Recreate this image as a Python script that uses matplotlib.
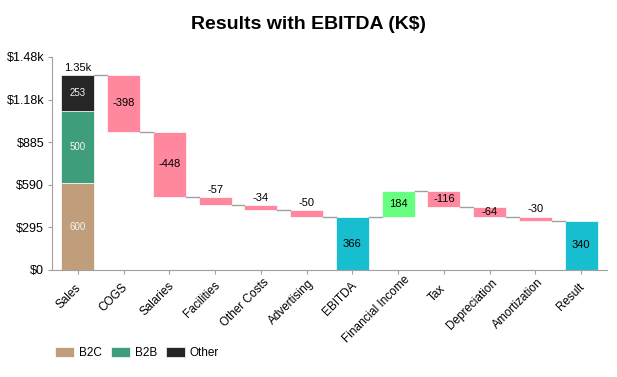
import numpy as np
import matplotlib
matplotlib.use("Agg")
from matplotlib import pyplot as plt

plt.rcParams['font.family'] = ['Liberation Sans', 'DejaVu Sans']

categories = ["Sales", "COGS", "Salaries", "Facilities", "Other Costs", "Advertising",
              "EBITDA", "Financial Income", "Tax", "Depreciation", "Amortization", "Result"]
deltas = [None, -398, -448, -57, -34, -50, None, 184, -116, -64, -30, None]
totals = [None, None, None, None, None, None, 366, None, None, None, None, 340]

sales_names = ["B2C", "B2B", "Other"]
sales_values = [600, 500, 253]
sales_colors = ["#C19E7B", "#3E9E7B", "#262626"]

neg_color = "#FF879E"
pos_color = "#66FF7F"
total_color = "#17BECF"

y_ticks = np.linspace(0, 1476, 6)
y_tick_labels = ["$0", "$295", "$590", "$885", "$1.18k", "$1.48k"]

fig = plt.figure(figsize=(6.17, 3.77), dpi=100)
ax = fig.add_axes([0.084, 0.284, 0.9, 0.565])

w = 0.72
x = np.arange(len(categories))

# stacked sales bar
bottom = 0
for name, v, c in zip(sales_names, sales_values, sales_colors):
    ax.bar(0, v, w, bottom=bottom, color=c, edgecolor="white", linewidth=0.5, label=name)
    ax.text(0, bottom + v / 2, str(v), ha="center", va="center", color="#F4F4F4", fontsize=7)
    bottom += v
running = bottom
ax.text(0, running + 15, "1.35k", ha="center", va="bottom", fontsize=8)

levels = [running]
for i in range(1, len(categories)):
    if totals[i] is not None:
        ax.bar(i, totals[i], w, color=total_color, edgecolor="white", linewidth=0.5)
        ax.text(i, totals[i] / 2, str(totals[i]), ha="center", va="center", fontsize=8)
        running = totals[i]
    else:
        d = deltas[i]
        c = neg_color if d < 0 else pos_color
        lo = min(running, running + d)
        ax.bar(i, abs(d), w, bottom=lo, color=c, edgecolor="white", linewidth=0.5)
        if abs(d) >= 60:
            ax.text(i, lo + abs(d) / 2, str(d), ha="center", va="center", fontsize=8)
        else:
            ax.text(i, lo + abs(d) + 15, str(d), ha="center", va="bottom", fontsize=8)
        running = running + d
    levels.append(running)

# connector lines
for i in range(len(categories) - 1):
    ax.plot([i + w / 2, i + 1 - w / 2], [levels[i], levels[i]], color="#A0A0A0", linewidth=1)

ax.set_xlim(-0.57, len(categories) - 0.43)
ax.set_ylim(0, 1476)
ax.set_yticks(y_ticks)
ax.set_yticklabels(y_tick_labels, fontsize=9)
ax.set_xticks(x)
ax.set_xticklabels([])

for s in ["top", "right"]:
    ax.spines[s].set_visible(False)
for s in ["left", "bottom"]:
    ax.spines[s].set_color("#A0A0A0")
ax.tick_params(axis="both", colors="#A0A0A0", labelcolor="black", length=3, pad=2.5)

# rotated category labels, pivoted ~20% in from their right end
fig.canvas.draw()
r = fig.canvas.get_renderer()
px = 72.0 / fig.dpi
for i, cat in enumerate(categories):
    t = ax.text(0, 0, cat, fontsize=8.5)
    L = t.get_window_extent(r).width
    t.remove()
    s = 0.2 * L * 0.707
    ax.annotate(cat, xy=(i, 0), xycoords=ax.get_xaxis_transform(),
                xytext=((-3 + s) * px, (-20 + s) * px), textcoords="offset points",
                rotation=45, ha="right", va="center", rotation_mode="anchor",
                fontsize=8.5, annotation_clip=False)

fig.suptitle("Results with EBITDA (K$)", fontsize=14, fontweight="bold", y=0.958, va="top")

handles, labels = ax.get_legend_handles_labels()
fig.legend(handles, labels, loc="lower left", bbox_to_anchor=(0.072, 0.02), ncol=3, frameon=False,
           fontsize=8.5, handlelength=1.6, handleheight=0.9, columnspacing=0.8, handletextpad=0.4)

fig.savefig("out.png", dpi=100)
